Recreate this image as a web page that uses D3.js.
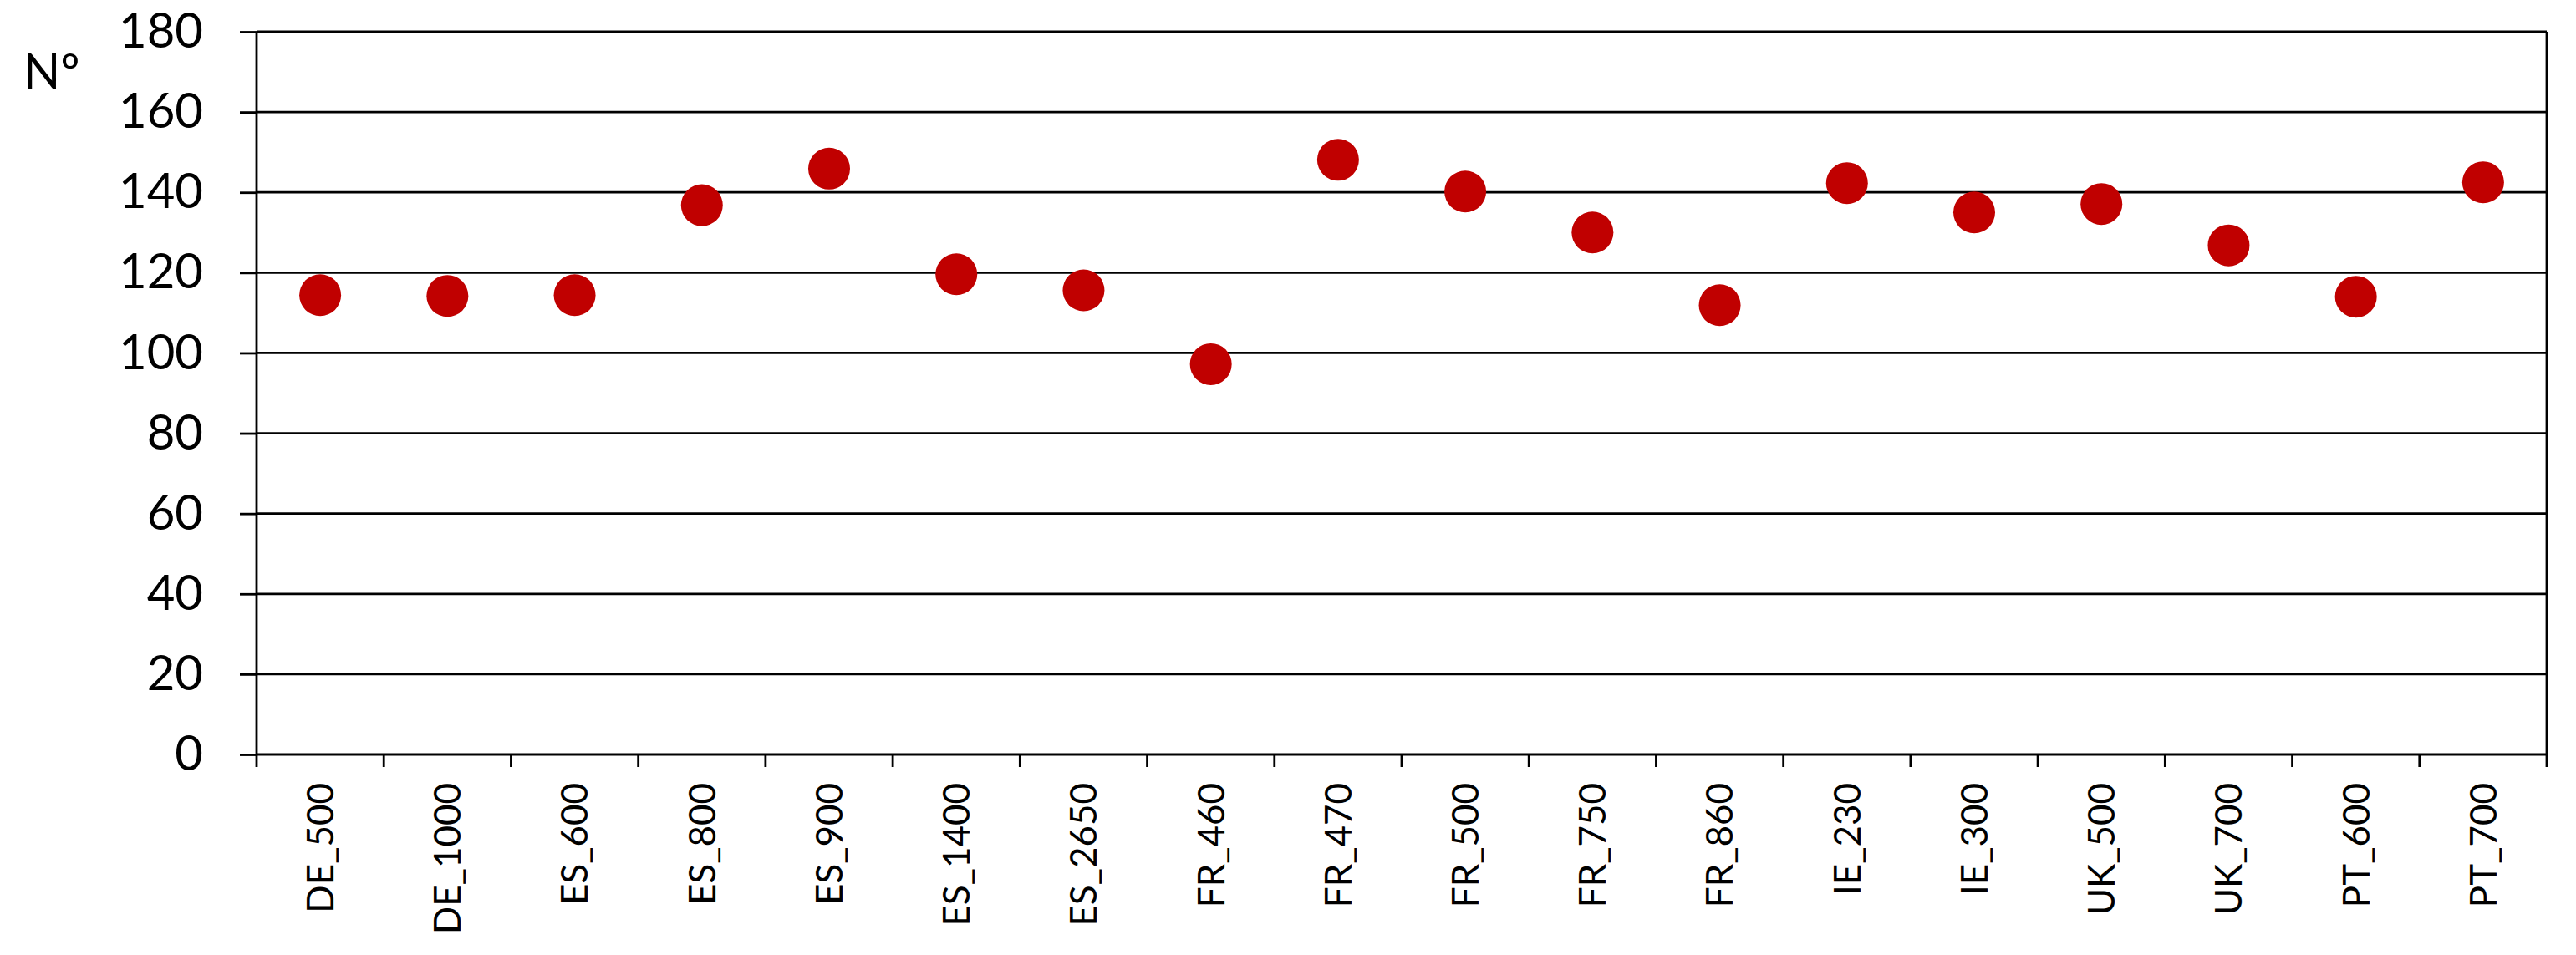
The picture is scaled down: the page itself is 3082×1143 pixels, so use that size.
<!DOCTYPE html>
<html>
<head>
<meta charset="utf-8">
<script src="https://cdn.jsdelivr.net/npm/d3@7"></script>
<style>
  body { margin: 0; background: #fff; }
  text { font-family: Lato, "Open Sans", sans-serif; fill: #000; }
</style>
</head>
<body>
<svg id="chart" width="3082" height="1143"></svg>
<script>
// categories on the x axis
var sites = ["DE_500", "DE_1000", "ES_600", "ES_800", "ES_900", "ES_1400", "ES_2650",
  "FR_460", "FR_470", "FR_500", "FR_750", "FR_860", "IE_230", "IE_300",
  "UK_500", "UK_700", "PT_600", "PT_700"];

// one value per site
var counts = [114.4, 114.2, 114.4, 136.8, 145.9, 119.6, 115.6,
  97.2, 148.1, 140.2, 130.0, 111.9, 142.3, 135.0,
  137.1, 126.8, 114.0, 142.5];

var yTicks = [0, 20, 40, 60, 80, 100, 120, 140, 160, 180];
var yLabel = "Nº";

var svg = d3.select("#chart"),
    plotLeft = 307, plotRight = 3047, plotTop = 38, plotBottom = 903;

var x = d3.scaleBand()
    .domain(sites)
    .range([plotLeft, plotRight])
    .padding(0);

var y = d3.scaleLinear()
    .domain([0, 180])
    .range([plotBottom, plotTop]);

svg.append("rect")
    .attr("width", 3082)
    .attr("height", 1143)
    .attr("fill", "#fff");

// horizontal grid lines
svg.append("g")
    .selectAll("line")
    .data(yTicks)
    .enter().append("line")
    .attr("x1", plotLeft)
    .attr("x2", plotRight)
    .attr("y1", function(d) { return y(d); })
    .attr("y2", function(d) { return y(d); })
    .attr("stroke", "#000")
    .attr("stroke-width", 2.8);

// right border of the plot area
svg.append("line")
    .attr("x1", plotRight).attr("x2", plotRight)
    .attr("y1", plotTop).attr("y2", plotBottom + 15)
    .attr("stroke", "#000")
    .attr("stroke-width", 2.8);

// y axis
var yAxis = svg.append("g")
    .attr("transform", "translate(" + plotLeft + ",0)")
    .call(d3.axisLeft(y).tickValues(yTicks).tickSize(20).tickSizeOuter(0).tickPadding(44));

yAxis.select(".domain")
    .attr("d", "M0," + plotTop + "V" + (plotBottom + 15))
    .attr("stroke-width", 2.8);
yAxis.selectAll(".tick line").attr("stroke-width", 2.8);
yAxis.selectAll("text")
    .style("font-size", "58px")
    .attr("font-family", null);

// x axis: labels at band centres, ticks at band edges
var xAxis = svg.append("g")
    .attr("transform", "translate(0," + plotBottom + ")")
    .call(d3.axisBottom(x).tickSize(0).tickSizeOuter(0));

xAxis.select(".domain").remove();
xAxis.selectAll("text")
    .attr("transform", "rotate(-90)")
    .attr("x", -34)
    .attr("y", 0)
    .attr("dy", "0.36em")
    .style("text-anchor", "end")
    .style("font-size", "44px")
    .attr("font-family", null);

svg.append("g")
    .selectAll("line")
    .data(sites.slice(1))
    .enter().append("line")
    .attr("x1", function(d) { return x(d); })
    .attr("x2", function(d) { return x(d); })
    .attr("y1", plotBottom)
    .attr("y2", plotBottom + 15)
    .attr("stroke", "#000")
    .attr("stroke-width", 2.8);

// y axis title
svg.append("text")
    .attr("x", 28)
    .attr("y", 106)
    .style("font-size", "58px")
    .text(yLabel);

// points
svg.append("g")
    .selectAll("circle")
    .data(sites)
    .enter().append("circle")
    .attr("cx", function(d) { return x(d) + x.bandwidth() / 2; })
    .attr("cy", function(d, i) { return y(counts[i]); })
    .attr("r", 25)
    .attr("fill", "#c00000");
</script>
</body>
</html>
